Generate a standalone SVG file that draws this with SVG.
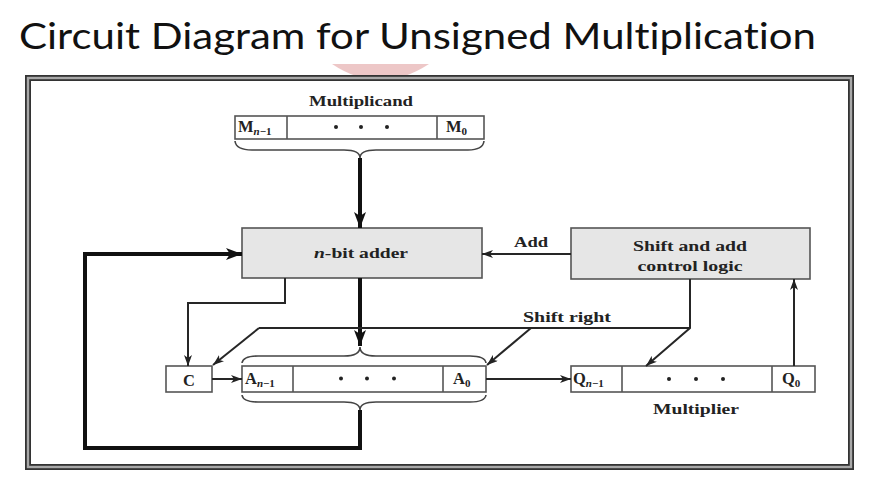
<svg xmlns="http://www.w3.org/2000/svg" width="882" height="489" viewBox="0 0 882 489">
<defs>
<style>
.title{font-family:Lato,"Open Sans","Liberation Sans",sans-serif;font-size:37px;fill:#111;font-variant-ligatures:none;font-feature-settings:"liga" 0,"clig" 0,"dlig" 0}
.lbl{font-family:"Liberation Serif",serif;font-weight:bold;font-size:15px;fill:#222}
.cell{font-family:"Liberation Serif",serif;font-weight:bold;font-size:16.5px;fill:#222}
.sub{font-size:11px}
.it{font-style:italic}
.box{fill:#e6e6e6;stroke:#555;stroke-width:1.6}
.reg{fill:#fff;stroke:#555;stroke-width:1.6}
.thin{fill:none;stroke:#262626;stroke-width:2}
.thick{fill:none;stroke:#111;stroke-width:4}
.brace{fill:none;stroke:#444;stroke-width:1.6}
.dot{fill:#222}
</style>
<marker id="ah" markerUnits="userSpaceOnUse" markerWidth="11" markerHeight="8" refX="11" refY="4" orient="auto">
<path d="M0,0 L11,4 L0,8 L3,4 z" fill="#222"/>
</marker>
<marker id="ahT" markerUnits="userSpaceOnUse" markerWidth="16" markerHeight="12" refX="16" refY="6" orient="auto">
<path d="M0,0 L16,6 L0,12 L4,6 z" fill="#111"/>
</marker>
</defs>
<rect width="882" height="489" fill="#fff"/>
<text class="title" x="19" y="49" textLength="797" lengthAdjust="spacingAndGlyphs">Circuit  Diagram  for  Unsigned  Multiplication</text>
<path d="M332,64 Q380,96 429,64 Z" fill="#e9b9b9" opacity="0.8"/>
<g id="frame">
<rect x="28" y="78" width="823" height="389" fill="none" stroke="#333" stroke-width="6"/>
<rect x="28" y="78" width="823" height="389" fill="none" stroke="#a8a8a8" stroke-width="2.4"/>
</g>

<g id="multiplicand">
<text class="lbl" x="361" y="106" text-anchor="middle" textLength="104" lengthAdjust="spacingAndGlyphs">Multiplicand</text>
<rect class="reg" x="235" y="116" width="249" height="23"/>
<line class="reg" x1="287" y1="116" x2="287" y2="139"/>
<line class="reg" x1="437" y1="116" x2="437" y2="139"/>
<text class="cell" x="238" y="132">M<tspan class="sub it" dy="3">n</tspan><tspan class="sub" dy="0">−1</tspan></text>
<text class="cell" x="446" y="132">M<tspan class="sub" dy="3">0</tspan></text>
<circle class="dot" cx="336" cy="127" r="2"/><circle class="dot" cx="361" cy="127" r="2"/><circle class="dot" cx="387" cy="127" r="2"/>
<path class="brace" d="M235,141 Q236,150 252,150 L344,150 Q360,150 360,158 Q360,150 376,150 L468,150 Q483,150 484,141"/>
</g>

<g id="adder">
<rect class="box" x="242" y="228" width="240" height="50"/>
<text class="lbl" x="361" y="258" text-anchor="middle" textLength="94" lengthAdjust="spacingAndGlyphs"><tspan class="it">n</tspan>-bit adder</text>
</g>

<g id="control">
<rect class="box" x="571" y="228" width="239" height="51"/>
<text class="lbl" x="690" y="251" text-anchor="middle" textLength="114" lengthAdjust="spacingAndGlyphs">Shift and add</text>
<text class="lbl" x="690" y="271" text-anchor="middle" textLength="105" lengthAdjust="spacingAndGlyphs">control logic</text>
</g>

<g id="carry">
<rect class="reg" x="166" y="366" width="46" height="26"/>
<text class="cell" x="189" y="386" text-anchor="middle">C</text>
</g>

<g id="accumulator">
<rect class="reg" x="242" y="366" width="244" height="26"/>
<line class="reg" x1="293" y1="366" x2="293" y2="392"/>
<line class="reg" x1="443" y1="366" x2="443" y2="392"/>
<text class="cell" x="245" y="384">A<tspan class="sub it" dy="3">n</tspan><tspan class="sub" dy="0">−1</tspan></text>
<text class="cell" x="453" y="384">A<tspan class="sub" dy="3">0</tspan></text>
<circle class="dot" cx="341" cy="378.5" r="2"/><circle class="dot" cx="367" cy="378.5" r="2"/><circle class="dot" cx="394" cy="378.5" r="2"/>
<path class="brace" d="M242,363 Q243,356 258,356 L344,356 Q360,356 360,347 Q360,356 376,356 L470,356 Q485,356 486,363"/>
<path class="brace" d="M242,395 Q243,402 258,402 L344,402 Q360,402 360,410 Q360,402 376,402 L470,402 Q485,402 486,395"/>
</g>

<g id="multiplier">
<rect class="reg" x="571" y="366" width="244" height="26"/>
<line class="reg" x1="622" y1="366" x2="622" y2="392"/>
<line class="reg" x1="772" y1="366" x2="772" y2="392"/>
<text class="cell" x="573" y="384">Q<tspan class="sub it" dy="3">n</tspan><tspan class="sub" dy="0">−1</tspan></text>
<text class="cell" x="782" y="384">Q<tspan class="sub" dy="3">0</tspan></text>
<circle class="dot" cx="669" cy="379" r="2"/><circle class="dot" cx="696" cy="379" r="2"/><circle class="dot" cx="723" cy="379" r="2"/>
<text class="lbl" x="696" y="414" text-anchor="middle" textLength="86" lengthAdjust="spacingAndGlyphs">Multiplier</text>
</g>

<g id="connectors">
<line class="thick" x1="360" y1="158" x2="360" y2="228" marker-end="url(#ahT)"/>
<line class="thick" x1="360" y1="278" x2="360" y2="346" marker-end="url(#ahT)"/>
<path class="thick" d="M360,410 L360,448 L85,448 L85,254 L242,254" marker-end="url(#ahT)"/>
<line class="thin" x1="571" y1="254" x2="482" y2="254" marker-end="url(#ah)"/>
<text class="lbl" x="531" y="247" text-anchor="middle" textLength="34" lengthAdjust="spacingAndGlyphs">Add</text>
<path class="thin" d="M285,278 L285,303 L188,303 L188,366" marker-end="url(#ah)"/>
<line class="thin" x1="259" y1="328" x2="690" y2="328"/>
<line class="thin" x1="259" y1="328" x2="213" y2="365" marker-end="url(#ah)"/>
<line class="thin" x1="531" y1="328" x2="487" y2="365" marker-end="url(#ah)"/>
<path class="thin" d="M690,279 L690,328 L646,366" marker-end="url(#ah)"/>
<text class="lbl" x="567" y="322" text-anchor="middle" textLength="88" lengthAdjust="spacingAndGlyphs">Shift right</text>
<line class="thin" x1="212" y1="379" x2="242" y2="379" marker-end="url(#ah)"/>
<line class="thin" x1="486" y1="379" x2="571" y2="379" marker-end="url(#ah)"/>
<line class="thin" x1="794" y1="366" x2="794" y2="279" marker-end="url(#ah)"/>
</g>
</svg>
